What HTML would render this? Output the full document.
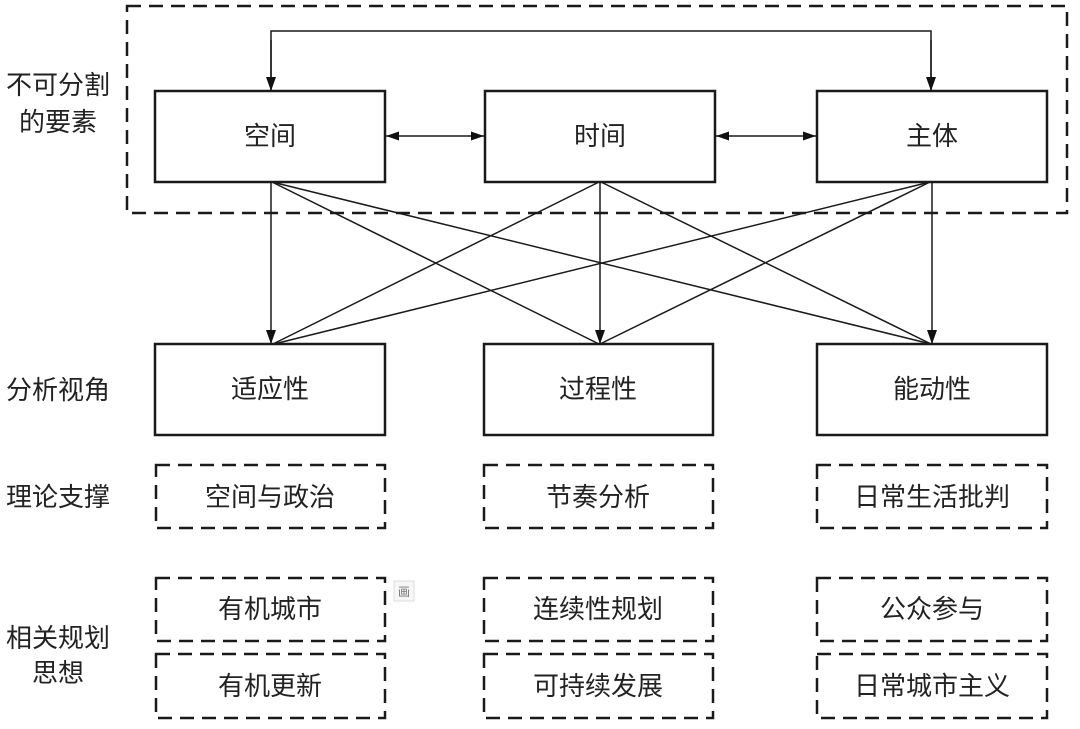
<!DOCTYPE html>
<html>
<head>
<meta charset="utf-8">
<style>
  html,body{margin:0;padding:0;background:#fff;}
  svg{display:block;}
  text{font-family:"Liberation Sans","Noto Sans CJK SC",sans-serif;fill:#222;font-size:26px;}
</style>
</head>
<body>
<svg width="1080" height="729" viewBox="0 0 1080 729" xmlns="http://www.w3.org/2000/svg">
  <defs>
    <marker id="ah" viewBox="0 0 14 10" refX="14" refY="5" markerWidth="14" markerHeight="10" markerUnits="userSpaceOnUse" orient="auto">
      <path d="M0,0 L14,5 L0,10 Z" fill="#111"/>
    </marker>
    <marker id="ahs" viewBox="0 0 13 9" refX="13" refY="4.5" markerWidth="13" markerHeight="9" markerUnits="userSpaceOnUse" orient="auto">
      <path d="M0,0 L13,4.5 L0,9 Z" fill="#111"/>
    </marker>
  </defs>

  <!-- outer dashed frame -->
  <rect x="127" y="6" width="940" height="207" fill="none" stroke="#1a1a1a" stroke-width="2.5" stroke-dasharray="14 8"/>

  <!-- top connector -->
  <polyline points="271,91 271,31 931,31 931,91" fill="none" stroke="#1a1a1a" stroke-width="1.5"/>
  <line x1="271" y1="40" x2="271" y2="91" stroke="#1a1a1a" stroke-width="1.5" marker-end="url(#ah)"/>
  <line x1="931" y1="40" x2="931" y2="91" stroke="#1a1a1a" stroke-width="1.5" marker-end="url(#ah)"/>

  <!-- double arrows -->
  <line x1="435" y1="136" x2="386" y2="136" stroke="#1a1a1a" stroke-width="1.5" marker-end="url(#ahs)"/>
  <line x1="435" y1="136" x2="484" y2="136" stroke="#1a1a1a" stroke-width="1.5" marker-end="url(#ahs)"/>
  <line x1="766" y1="136" x2="716" y2="136" stroke="#1a1a1a" stroke-width="1.5" marker-end="url(#ahs)"/>
  <line x1="766" y1="136" x2="816" y2="136" stroke="#1a1a1a" stroke-width="1.5" marker-end="url(#ahs)"/>

  <!-- diagonals -->
  <g stroke="#1a1a1a" stroke-width="1.5" fill="none">
    <line x1="272" y1="182" x2="599" y2="344"/>
    <line x1="272" y1="182" x2="931" y2="344"/>
    <line x1="599" y1="182" x2="273" y2="344"/>
    <line x1="601" y1="182" x2="931" y2="344"/>
    <line x1="930" y1="182" x2="274" y2="344"/>
    <line x1="930" y1="182" x2="600" y2="344"/>
  </g>
  <!-- vertical arrows -->
  <line x1="271" y1="182" x2="271" y2="344" stroke="#1a1a1a" stroke-width="1.5" marker-end="url(#ah)"/>
  <line x1="600" y1="182" x2="600" y2="344" stroke="#1a1a1a" stroke-width="1.5" marker-end="url(#ah)"/>
  <line x1="932" y1="182" x2="932" y2="344" stroke="#1a1a1a" stroke-width="1.5" marker-end="url(#ah)"/>

  <!-- top row solid boxes -->
  <g fill="#fff" stroke="#1a1a1a" stroke-width="2.5">
    <rect x="155" y="91" width="230" height="91"/>
    <rect x="485" y="91" width="230" height="91"/>
    <rect x="817" y="91" width="230" height="91"/>
    <rect x="155" y="344" width="230" height="91"/>
    <rect x="484" y="344" width="229" height="91"/>
    <rect x="817" y="344" width="230" height="91"/>
  </g>

  <!-- dashed boxes -->
  <g fill="none" stroke="#1a1a1a" stroke-width="2.5" stroke-dasharray="14 8">
    <rect x="156" y="465" width="229" height="63"/>
    <rect x="484" y="465" width="229" height="63"/>
    <rect x="817" y="465" width="230" height="63"/>
    <rect x="156" y="578" width="229" height="63"/>
    <rect x="484" y="578" width="229" height="63"/>
    <rect x="817" y="578" width="230" height="63"/>
    <rect x="156" y="654" width="229" height="64"/>
    <rect x="484" y="654" width="229" height="64"/>
    <rect x="817" y="654" width="230" height="64"/>
  </g>

  <!-- small icon -->
  <rect x="394" y="581" width="20" height="20" fill="#f6f6f6" stroke="#ddd" stroke-width="1"/>
  <text x="404" y="596" text-anchor="middle" style="font-size:12px;fill:#777">画</text>

  <!-- box labels -->
  <g text-anchor="middle">
    <text x="270" y="145">空间</text>
    <text x="600" y="145">时间</text>
    <text x="932" y="145">主体</text>
    <text x="270" y="398">适应性</text>
    <text x="598" y="398">过程性</text>
    <text x="932" y="398">能动性</text>
    <text x="270" y="506">空间与政治</text>
    <text x="598" y="506">节奏分析</text>
    <text x="932" y="506">日常生活批判</text>
    <text x="270" y="618">有机城市</text>
    <text x="598" y="618">连续性规划</text>
    <text x="932" y="618">公众参与</text>
    <text x="270" y="695">有机更新</text>
    <text x="598" y="695">可持续发展</text>
    <text x="932" y="695">日常城市主义</text>
  </g>

  <!-- left labels -->
  <g text-anchor="middle">
    <text x="58" y="94">不可分割</text>
    <text x="58" y="131">的要素</text>
    <text x="58" y="399">分析视角</text>
    <text x="58" y="506">理论支撑</text>
    <text x="58" y="647">相关规划</text>
    <text x="58" y="682">思想</text>
  </g>
</svg>
</body>
</html>
